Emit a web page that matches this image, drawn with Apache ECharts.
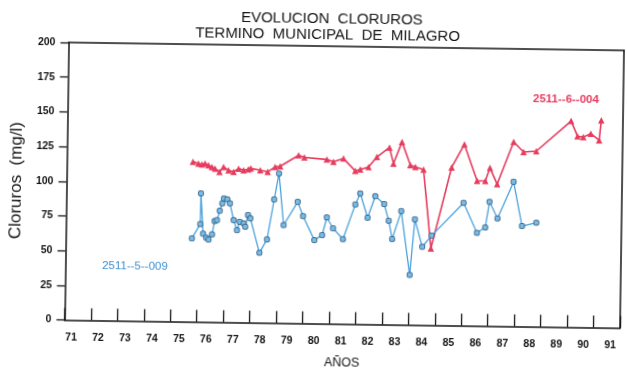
<!DOCTYPE html>
<html>
<head>
<meta charset="utf-8">
<title>Evolucion cloruros</title>
<script src="https://cdn.jsdelivr.net/npm/echarts@6/dist/echarts.min.js"></script>
<style>
  html, body { margin: 0; padding: 0; background: #fff; overflow: hidden; }
  #chart { width: 627px; height: 375px; transform: rotate(0.82deg); transform-origin: 50% 50%; }
</style>
</head>
<body>
<div id="chart"></div>
<script>
// Tick labels
const yearTicks = [71, 72, 73, 74, 75, 76, 77, 78, 79, 80, 81, 82, 83, 84, 85, 86, 87, 88, 89, 90, 91];
const valueTicks = [0, 25, 50, 75, 100, 125, 150, 175, 200];

// Well 2511-6-004 (year, chloride mg/l)
const redName = '2511--6--004';
const redYears = [75.77, 75.98, 76.11, 76.23, 76.36, 76.49, 76.61, 76.78, 76.93, 77.12,
  77.31, 77.50, 77.69, 77.87, 77.96, 78.32, 78.60, 78.88, 79.07, 79.76,
  79.98, 80.83, 81.08, 81.46, 81.91, 82.10, 82.41, 82.72, 83.19, 83.35,
  83.66, 83.99, 84.18, 84.49, 84.81, 85.55, 86.02, 86.52, 86.83, 87.00,
  87.28, 87.88, 88.26, 88.74, 90.04, 90.29, 90.51, 90.79, 91.11, 91.18];
const redValues = [115.4, 114.1, 113.5, 114.2, 113.0, 111.8, 110.7, 108.3, 111.9, 109.6,
  108.5, 110.9, 109.8, 110.4, 111.1, 109.9, 108.8, 112.5, 113.0, 121.1,
  119.6, 118.3, 116.7, 119.2, 110.4, 111.5, 113.4, 120.7, 127.6, 116.1,
  131.8, 115.1, 113.9, 112.1, 55.4, 113.9, 130.7, 104.5, 104.5, 114.0,
  102.3, 133.0, 125.8, 126.5, 148.6, 137.7, 137.2, 139.7, 135.0, 149.4];

// Well 2511-5-009 (year, chloride mg/l)
const blueName = '2511--5--009';
const blueYears = [75.77, 76.08, 76.09, 76.19, 76.31, 76.40, 76.53, 76.62, 76.71, 76.81,
  76.90, 76.96, 77.09, 77.19, 77.34, 77.47, 77.57, 77.72, 77.78, 77.88,
  77.97, 78.33, 78.61, 78.86, 79.03, 79.23, 79.75, 79.96, 80.40, 80.69,
  80.86, 81.10, 81.48, 81.93, 82.11, 82.40, 82.68, 83.02, 83.20, 83.34,
  83.67, 84.02, 84.19, 84.48, 84.83, 86.02, 86.54, 86.85, 87.00, 87.31,
  87.90, 88.24, 88.78];
const blueValues = [60.1, 70.5, 92.6, 63.6, 60.7, 59.4, 63.2, 72.8, 73.5, 80.3,
  85.6, 89.2, 88.6, 85.7, 73.7, 66.5, 72.5, 71.4, 69.0, 77.5,
  75.1, 50.4, 60.1, 89.0, 107.8, 70.6, 87.5, 77.3, 60.1, 63.8,
  76.6, 68.8, 61.1, 86.2, 94.2, 76.8, 92.4, 86.8, 74.8, 61.7,
  81.9, 36.0, 76.1, 56.4, 64.6, 88.5, 67.0, 71.0, 89.5, 77.6,
  104.2, 72.4, 74.9];

const RED = '#e63c5e';
const BLUE = '#4aa2dc';
const INK = '#151515';
const FONT = 'Liberation Sans, Arial, sans-serif';

const pairs = (xs, ys) => xs.map((x, i) => [x, ys[i]]);

const chart = echarts.init(document.getElementById('chart'), null, { renderer: 'canvas' });

const frameLine = { show: true, lineStyle: { color: INK, width: 1.5 } };

chart.setOption({
  animation: false,
  backgroundColor: '#ffffff',
  textStyle: { fontFamily: FONT },
  grid: { left: 66, right: 5, top: 46, bottom: 51.5 },
  xAxis: [
    {
      // main year scale: frame line and inward ticks
      type: 'value', position: 'bottom', min: 71, max: 92, interval: 1,
      axisLine: frameLine,
      axisTick: { show: true, inside: true, length: 12, lineStyle: { color: INK, width: 1.3 } },
      axisLabel: { show: false },
      splitLine: { show: false },
      name: 'AÑOS', nameLocation: 'middle', nameGap: 33,
      nameTextStyle: { fontSize: 12.5, color: INK, fontFamily: FONT }
    },
    {
      // year labels
      type: 'value', position: 'bottom', min: 70.75, max: 91.36,
      axisLine: { show: false }, axisTick: { show: false }, splitLine: { show: false },
      axisLabel: {
        customValues: yearTicks, margin: 12,
        fontSize: 10.5, fontWeight: 'bold', color: INK, fontFamily: FONT
      }
    },
    {
      type: 'value', position: 'top', min: 71, max: 92,
      axisLine: frameLine, axisTick: { show: false }, axisLabel: { show: false }, splitLine: { show: false }
    }
  ],
  yAxis: [
    {
      type: 'value', position: 'left', min: valueTicks[0], max: valueTicks[valueTicks.length - 1], interval: 25,
      axisLine: frameLine,
      axisTick: { show: true, inside: false, length: 8, lineStyle: { color: INK, width: 1.3 } },
      axisLabel: { margin: 13, fontSize: 10.5, fontWeight: 'bold', color: INK, fontFamily: FONT },
      splitLine: { show: false },
      name: 'Cloruros  (mg/l)', nameLocation: 'middle', nameGap: 35, nameRotate: 90,
      nameTextStyle: { fontSize: 17, color: INK, fontFamily: FONT }
    },
    {
      type: 'value', position: 'right', min: 0, max: 200,
      axisLine: frameLine, axisTick: { show: false }, axisLabel: { show: false }, splitLine: { show: false }
    }
  ],
  series: [
    {
      name: redName, type: 'line', xAxisIndex: 0, yAxisIndex: 0,
      data: pairs(redYears, redValues),
      symbol: 'triangle', symbolSize: 6.5,
      itemStyle: { color: RED },
      lineStyle: { color: RED, width: 1.6 },
      z: 3
    },
    {
      name: blueName, type: 'line', xAxisIndex: 0, yAxisIndex: 0,
      data: pairs(blueYears, blueValues),
      symbol: 'roundRect', symbolSize: 5,
      itemStyle: { color: '#74bde8', borderColor: '#2f4f72', borderWidth: 0.8 },
      lineStyle: { color: BLUE, width: 1.3 },
      z: 4
    }
  ],
  graphic: [
    {
      type: 'text', x: 329.5, y: 18.7,
      style: { text: 'EVOLUCION  CLORUROS', font: '15px ' + FONT, fill: INK, align: 'center', verticalAlign: 'middle' }
    },
    {
      type: 'text', x: 325.5, y: 34.8,
      style: { text: 'TERMINO  MUNICIPAL  DE  MILAGRO', font: '15px ' + FONT, fill: INK, align: 'center', verticalAlign: 'middle' }
    },
    {
      type: 'text', x: 564.7, y: 95.4,
      style: { text: redName, font: 'bold 11.5px ' + FONT, fill: RED, align: 'center', verticalAlign: 'middle' }
    },
    {
      type: 'text', x: 136, y: 268.6,
      style: { text: blueName, font: '11.5px ' + FONT, fill: '#3d8fd0', align: 'center', verticalAlign: 'middle' }
    }
  ]
});
</script>
</body>
</html>
